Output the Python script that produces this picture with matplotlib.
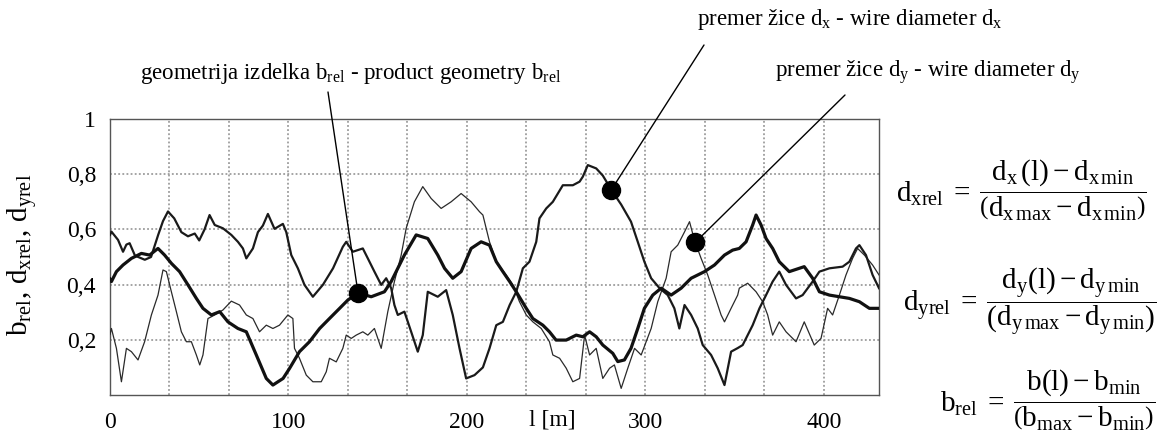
import numpy as np
import matplotlib
matplotlib.use("Agg")
import matplotlib.pyplot as plt
from matplotlib.transforms import blended_transform_factory

plt.rcParams['font.family'] = ['Liberation Serif', 'DejaVu Serif']
plt.rcParams['mathtext.fontset'] = 'custom'
plt.rcParams['mathtext.rm'] = 'Liberation Serif'
plt.rcParams['mathtext.it'] = 'Liberation Serif:italic'
plt.rcParams['mathtext.bf'] = 'Liberation Serif:bold'

# ---------------- data ----------------
# b_rel (product geometry) - thickest line
b_x = [0, 0.8, 3.6, 7.3, 12, 17.6, 22.2, 26.9, 30.6, 34.4, 39, 43.7, 48.4, 52.1, 56.8, 61.5, 66.1, 71.7,
       76.4, 82, 87.6, 91.3, 97, 100.6, 106.2, 111.8, 117.5, 123, 128.7, 133.3, 139, 146.4, 153.8, 157.6,
       161.3, 165, 171.6, 178.1, 183.7, 187.5, 192.1, 196.8, 202.4, 208, 212.7, 216.5, 220.2, 224, 227.7,
       233.3, 237, 242.6, 246.3, 250, 255.7, 261.3, 265, 268.8, 272.5, 276.2, 281.8, 284.6, 288.3, 292,
       295.8, 299.5, 304.2, 308.9, 314.5, 320.1, 325.7, 333.2, 338.8, 344.4, 349, 352.7, 356.5, 360.2,
       362.1, 364.9, 367.7, 371.4, 375.1, 380.7, 386.3, 389.1, 393.8, 397.6, 403.2, 408.8, 414.4, 420,
       425.6, 431]
b_y = [0.42, 0.411, 0.447, 0.471, 0.495, 0.513, 0.507, 0.531, 0.507, 0.477, 0.447, 0.399, 0.350, 0.314,
       0.290, 0.302, 0.265, 0.241, 0.229, 0.145, 0.06, 0.036, 0.06, 0.096, 0.157, 0.193, 0.241, 0.277,
       0.314, 0.344, 0.370, 0.356, 0.374, 0.411, 0.459, 0.507, 0.580, 0.567, 0.507, 0.459, 0.423, 0.447,
       0.531, 0.555, 0.543, 0.483, 0.447, 0.411, 0.374, 0.314, 0.277, 0.253, 0.229, 0.199, 0.199, 0.217,
       0.211, 0.229, 0.211, 0.181, 0.151, 0.121, 0.127, 0.169, 0.241, 0.314, 0.362, 0.387, 0.362, 0.387,
       0.423, 0.447, 0.471, 0.507, 0.525, 0.531, 0.555, 0.616, 0.652, 0.616, 0.567, 0.531, 0.483, 0.447,
       0.459, 0.465, 0.423, 0.374, 0.362, 0.356, 0.350, 0.338, 0.314, 0.314]

# d_xrel (wire diameter d_x) - medium line
dx_x = [0, 0.8, 4.5, 7.3, 9.2, 11, 14, 19.5, 23, 27, 29.7, 32.5, 36, 40, 43.7, 47.5, 50, 53, 55.8, 58.7,
        63.3, 68, 71.7, 74.5, 76.4, 80.1, 82.9, 85.7, 88.5, 92.2, 96.9, 98.8, 101.6, 105.3, 109, 113.7,
        119.3, 125, 130.5, 132.4, 136.1, 141.7, 144.5, 148.2, 152, 154.8, 157.6, 159.4, 161.3, 165, 168.8,
        172.5, 175.3, 178.1, 183.7, 188.4, 192.1, 195.9, 199.6, 204.3, 209, 212.7, 216.5, 220.2, 224,
        227.7, 231.4, 235.1, 238.9, 240.7, 244.5, 248.2, 253.8, 259.4, 263.2, 265, 267.8, 272.5, 276.2,
        281.8, 286.5, 292, 295.8, 299.5, 303.3, 308, 312.6, 316.3, 319.1, 322, 325.7, 329.4, 332.2, 336.9,
        340.6, 344.4, 348.1, 351.8, 354.6, 360.2, 364, 367.7, 371.4, 375.1, 378.9, 384.5, 388.2, 393.8,
        397.6, 403.2, 410.6, 414.4, 418.1, 420, 423.7, 427.4, 431]
dx_y = [0.58, 0.592, 0.562, 0.519, 0.545, 0.55, 0.505, 0.49, 0.50, 0.58, 0.63, 0.665, 0.64, 0.59, 0.575,
        0.585, 0.56, 0.60, 0.652, 0.616, 0.604, 0.58, 0.555, 0.531, 0.495, 0.531, 0.59, 0.614, 0.656,
        0.602, 0.62, 0.59, 0.507, 0.459, 0.399, 0.356, 0.399, 0.459, 0.537, 0.555, 0.519, 0.531, 0.495,
        0.447, 0.399, 0.423, 0.387, 0.326, 0.290, 0.302, 0.229, 0.157, 0.217, 0.374, 0.356, 0.380, 0.290,
        0.169, 0.060, 0.072, 0.10, 0.169, 0.253, 0.265, 0.326, 0.374, 0.459, 0.483, 0.555, 0.640, 0.676,
        0.700, 0.760, 0.760, 0.773, 0.791, 0.833, 0.821, 0.795, 0.735, 0.690, 0.628, 0.555, 0.483, 0.423,
        0.387, 0.362, 0.314, 0.241, 0.326, 0.290, 0.241, 0.181, 0.145, 0.097, 0.036, 0.157, 0.17, 0.181,
        0.253, 0.314, 0.362, 0.411, 0.447, 0.399, 0.350, 0.362, 0.411, 0.447, 0.459, 0.465, 0.483, 0.531,
        0.543, 0.507, 0.435, 0.387]

# d_yrel (wire diameter d_y) - thin line
dy_x = [0, 0.8, 3.6, 6.4, 9.2, 12, 15.7, 19.4, 23.2, 26.9, 29.7, 31.6, 34.4, 37.2, 40, 42.8, 45.6, 48.4,
        50.3, 52.1, 54.9, 58.7, 63.3, 68, 72.6, 76.4, 80.1, 83.8, 87.6, 91.3, 95, 99.7, 102.5, 103.4, 106.2,
        110, 113.7, 118.4, 121.2, 123, 126.8, 130.5, 132.4, 135.2, 138, 141.7, 144.5, 148.2, 152, 155.7,
        159.4, 163.2, 166, 170.6, 175.3, 180, 185.6, 191.2, 196.8, 202.4, 207.1, 209, 212.7, 216.5, 222,
        225.8, 229.5, 233.3, 237, 241.7, 246.3, 248.2, 252, 255.7, 259.4, 263.2, 266, 268.8, 272.5, 276.2,
        280, 282.7, 286.5, 290.2, 294, 297.7, 303.3, 307, 311.7, 314.5, 318.2, 322, 324.8, 327.6, 331.3,
        335, 338.8, 342.5, 344.4, 348.1, 351.8, 352.7, 357.4, 362.1, 365.8, 368.6, 371.4, 375.1, 378.9,
        384.5, 389.1, 394.7, 398.5, 402.2, 405, 408.8, 412.5, 416.2, 419, 422.8, 427.4, 431]
dy_y = [0.22, 0.241, 0.169, 0.048, 0.169, 0.157, 0.127, 0.193, 0.290, 0.362, 0.453, 0.447, 0.374, 0.302,
        0.229, 0.193, 0.193, 0.145, 0.109, 0.145, 0.277, 0.290, 0.308, 0.34, 0.326, 0.290, 0.277, 0.229,
        0.253, 0.241, 0.253, 0.29, 0.277, 0.169, 0.133, 0.072, 0.048, 0.048, 0.084, 0.133, 0.12, 0.169,
        0.217, 0.205, 0.217, 0.229, 0.217, 0.241, 0.169, 0.302, 0.411, 0.507, 0.604, 0.700, 0.755, 0.712,
        0.676, 0.700, 0.730, 0.700, 0.664, 0.652, 0.555, 0.483, 0.435, 0.399, 0.338, 0.290, 0.265, 0.241,
        0.193, 0.145, 0.133, 0.097, 0.048, 0.060, 0.217, 0.145, 0.169, 0.060, 0.097, 0.109, 0.024, 0.097,
        0.169, 0.145, 0.241, 0.338, 0.423, 0.519, 0.543, 0.591, 0.628, 0.56, 0.495, 0.435, 0.362, 0.290,
        0.265, 0.314, 0.362, 0.387, 0.405, 0.374, 0.338, 0.290, 0.217, 0.265, 0.229, 0.193, 0.265, 0.181,
        0.205, 0.314, 0.290, 0.362, 0.435, 0.495, 0.531, 0.507, 0.471, 0.435]

x_ticks = [0, 100, 200, 300, 400]
y_ticks = [0.2, 0.4, 0.6, 0.8, 1.0]
y_tick_labels = ['0,2', '0,4', '0,6', '0,8', '1']

# annotation anchors (x positions on the curves)
ann_b_x = 139
ann_dx_x = 281
ann_dy_x = 328

W, H = 1168, 434
fig = plt.figure(figsize=(W / 100, H / 100), dpi=100)
ax = fig.add_axes([110 / W, 1 - 395 / H, (879 - 110) / W, (395 - 119) / H])

ax.plot(dy_x, dy_y, color='#2a2a2a', lw=0.9, zorder=3)
ax.plot(dx_x, dx_y, color='#1a1a1a', lw=1.6, zorder=3)
ax.plot(b_x, b_y, color='#111111', lw=2.3, zorder=4)

ax.set_xlim(0, 431)
ax.set_ylim(0, 1.0)

# grid
for gx in np.arange(100 / 3, 431, 100 / 3):
    ax.axvline(gx, color='#8c8c8c', lw=1.1, ls=(0, (1.2, 1.5)), zorder=1)
for gy in [0.2, 0.4, 0.6, 0.8]:
    ax.axhline(gy, color='#8c8c8c', lw=1.1, ls=(0, (1.2, 1.5)), zorder=1)

ax.set_xticks(x_ticks)
ax.set_xticklabels([str(v) for v in x_ticks], fontsize=17)
ax.set_yticks(y_ticks)
ax.set_yticklabels(y_tick_labels, fontsize=17)
ax.tick_params(length=0)
ax.tick_params(axis='x', pad=12)
ax.tick_params(axis='y', pad=10)
for s in ax.spines.values():
    s.set_color('#555555')
    s.set_linewidth(1.0)

trans = blended_transform_factory(ax.transData, ax.transAxes)
ax.text(248, -0.09, 'l [m]', transform=trans, fontsize=17, ha='center', va='center')

fig.text(22 / W, 1 - 255 / H, r'$\mathrm{b_{rel},\,d_{xrel},\,d_{yrel}}$', rotation=90,
         fontsize=21, ha='center', va='center')

# annotations
def annotate(xa, xs, ys, start_px, lbl, txt_px, ha):
    ya = float(np.interp(xa, xs, ys))
    ax.plot([xa], [ya], 'o', color='black', ms=13, zorder=6)
    ax.annotate('', xy=(xa, ya), xycoords='data',
                xytext=(start_px[0] / W, 1 - start_px[1] / H), textcoords='figure fraction',
                arrowprops=dict(arrowstyle='-', lw=1.0, color='black', shrinkA=0, shrinkB=0),
                annotation_clip=False, zorder=5)
    fig.text(txt_px[0] / W, 1 - txt_px[1] / H, lbl, fontsize=16.5, ha=ha, va='center')

annotate(ann_b_x, b_x, b_y, (328, 92),
         r'geometrija izdelka $\mathrm{b_{rel}}$ - product geometry $\mathrm{b_{rel}}$', (140, 73), 'left')
annotate(ann_dx_x, dx_x, dx_y, (704, 45),
         r'premer žice $\mathrm{d_x}$ - wire diameter $\mathrm{d_x}$', (697, 20), 'left')
annotate(ann_dy_x, dy_x, dy_y, (845, 95),
         r'premer žice $\mathrm{d_y}$ - wire diameter $\mathrm{d_y}$', (775, 72), 'left')

# formulas
f1 = r'$\mathrm{d_{xrel}}\;=\;\dfrac{\mathrm{d_x\,(l) - d_{x\,min}}}{\left(\mathrm{d_{x\,max} - d_{x\,min}}\right)}$'
f2 = r'$\mathrm{d_{yrel}}\;=\;\dfrac{\mathrm{d_y(l) - d_{y\,min}}}{\left(\mathrm{d_{y\,max} - d_{y\,min}}\right)}$'
f3 = r'$\mathrm{b_{rel}}\;=\;\dfrac{\mathrm{b(l) - b_{min}}}{\left(\mathrm{b_{max} - b_{min}}\right)}$'
fig.text(896 / W, 1 - 190 / H, f1, fontsize=21, ha='left', va='center')
fig.text(903 / W, 1 - 302 / H, f2, fontsize=21, ha='left', va='center')
fig.text(940 / W, 1 - 400 / H, f3, fontsize=21, ha='left', va='center')

fig.savefig('out.png', dpi=100)
